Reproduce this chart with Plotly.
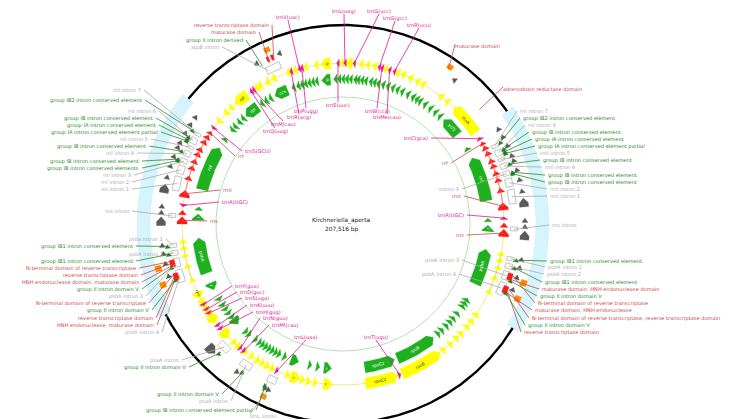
import numpy as np
import plotly.graph_objects as go

# ---------------- geometry (layout only) ----------------
CX, CY = 335.0, 216.0
MIRROR = 364.5            # inverted repeat copy: angle -> MIRROR - angle
IR_RIGHT = (55.5, 121.5)
R_BACK, R_YEL, R_GRN = 199, 161, 145
R_INTRON, R_ELEM, R_GRAY, R_ORANGE = 171, 177, 182, 190
R_THIN_G = 127

# ---------------- data ----------------
# angles in degrees clockwise from 12 o'clock; arrows point counter-clockwise
YEL_SMALL = [124.1, 127, 129.5, 132.7, 135, 138, 141.3, 189.8, 192.3, 194.5, 200, 206, 208,
             210, 212, 214.5, 217.2, 220.5, 222.5, 235.3, 237.2, 239.2, 241.2, 309.6, 313.5,
             316, 327.5, 329, 332, 334.5, 340, 342.5, 346.5, 350.3, 359.5, 6.4, 8.8, 11.3,
             15.2, 19.8, 21.9, 24.7, 27.5, 29.7, 37.4, 40.3]
YEL_BIG = [(143, 158.5, "rpoB"), (160, 172, "rpoC2"), (183.8, 187, "r"), (195.5, 199, "r"),
           (225, 228.5, ""), (232, 235, ""), (242.5, 245, "rps"), (318, 323.5, "rpl"),
           (352, 355.6, "p"), (0.8, 3.4, ""), (43.5, 55.4, "ccsA")]

GRN_SMALL = [121.5, 123, 124.5, 128, 130.5, 132.4, 134.5, 137, 139, 189.9, 193.1, 203.6, 206,
             207.5, 209, 210.5, 212, 213.5, 215, 217, 220.3, 222, 230, 232, 234, 236, 238.7,
             310.3, 312, 314.4, 316.5, 326, 328, 330, 340, 342, 343.5, 345, 346.5, 348, 349.5,
             357, 358.5, 0, 1.5, 3, 4.8, 6, 7.5, 9, 11, 12.5, 14, 16, 18, 20, 22, 24, 26.5,
             28.8, 30.5, 32, 34.4, 37, 39.5, 41.9]
GRN_BIG = [(141.5, 158, "rpoB"), (159.2, 171.4, "rpoC2"), (184.5, 187.5, "r"),
           (197.8, 201, ""), (226.3, 229.3, ""), (243, 246, "r"), (318, 324, "rpl"),
           (332, 337.5, "ccs"), (351.5, 355, "p"), (44, 52, "ycf1")]

# inverted repeat (right copy); left copy is mirrored
IR_RED = [61.8, 63.9, 66.9, 68.8, 71.6, 74.1, 77.9, 90.4]       # rRNA exons (small)
IR_RED_BIG = [83.7, 93.2]
IR_RRF = 60.0
IR_PSBA_EXONS = [100.6, 102.9, 105.6, 109.5, 114.8]
IR_GRN_BIG = [(62.9, 80.8, "rnl"), (90.5, 93.0, "r"), (100, 114.3, "psbA")]
IR_GRN_SMALL = [58.8, 88.4]
IR_GRAY_SMALL = [58.5, 61.3, 64.4, 67.8, 69.5, 72.6, 75.8, 79.5, 88.8, 90.8, 101.2, 103.8, 107, 111]
IR_GRAY_BIG = [83.2, 93.6]
IR_ELEM = [62.6, 65.0, 65.9, 66.5, 70.2, 73.0, 73.5, 101.8, 104.4, 108.8, 113.0]
IR_DOMAIN = [106.8, 107.5, 108.3, 111.2, 112.0, 112.8]
IR_ORANGE = [108.1, 113.2]

OTHER_INTRONS = [(333.5, 338.5), (222, 226), (212.5, 216.5), (203, 206)]
OTHER_GRAY = [331.5, 339.4, 37.6, 215.5, 204.0, 205.2]
OTHER_GRAY_BIG = [226.3]
OTHER_ORANGE = [336.4, 34.3, 204.8]
OTHER_ELEM = [223.5, 214.0, 205.6]
OTHER_DOMAIN = [335.5, 337.0]

TRNA = [("trnV(uac)", 344.3, 280, 9, "center"), ("trnL(uag)", 0.7, 336, 3, "center"),
        ("trnG(ucc)", 4.0, 371, 3, "center"), ("trnG(gcc)", 13.0, 387, 10, "center"),
        ("trnR(ucu)", 18.6, 411, 17, "center"), ("trnP(ugg)", 345.2, 298, 103, "center"),
        ("trnR(acg)", 341.2, 291, 109, "center"), ("trnM(cau)", 326.3, 275, 116, "center"),
        ("trnQ(uug)", 325.3, 267, 123, "center"), ("trnE(uuc)", 358.2, 330, 97, "center"),
        ("trnW(cca)", 14.0, 369, 103, "center"), ("trnMe(cau)", 16.8, 379, 109, "center"),
        ("trnC(gca)", 58.0, 422, 130, "right"), ("trnS(GCU)", 306.5, 235, 143, "left"),
        ("trnA(UGC)", 87.9, 458, 207, "right"), ("trnA(UGC)", 276.6, 212, 194, "left"),
        ("trnY(gua)", 240.0, 225, 278, "left"), ("trnD(guc)", 238.0, 230, 284, "left"),
        ("trnS(uga)", 236.4, 235, 290, "left"), ("trnK(uuu)", 231.0, 240, 297, "left"),
        ("trnH(gug)", 229.5, 246, 304, "left"), ("trnN(guu)", 219.5, 253, 310, "left"),
        ("trnMf(cau)", 218.0, 262, 317, "left"), ("trnL(uaa)", 204.2, 298, 329, "center"),
        ("trnT(ugu)", 159.4, 368, 329, "center")]
RRNA_LABELS = [("rrf", 60.0, 442, 155, "right"), ("rrnl", 83.7, 455, 188, "right"),
               ("rns", 93.2, 458, 227, "right"), ("rrf", 304.5, 228, 148, "left"),
               ("rrnl", 280.8, 213, 182, "left"), ("rns", 271.3, 200, 213, "left")]
INNER_GRAY = [("intron 3", 72.9, 453, 181, "right"), ("psbA intron 3", 107.6, 453, 252, "right"),
              ("psbA intron 4", 112.0, 450, 266, "right")]

# outer labels: (text, kind, x, y, target angle, target radius)
G, E, D = "gray", "green", "red"
RIGHT_LABELS = [
    ("rnl intron 7", G, 510, 103, 62.8, R_INTRON), ("group IB2 intron conserved element", E, 513, 110, 62.6, R_ELEM),
    ("rnl intron 6", G, 518, 117, 65.4, R_INTRON), ("group IB intron conserved element", E, 522, 124, 65.0, R_ELEM),
    ("group IA intron conserved element", E, 525, 131, 65.9, R_ELEM),
    ("group IA intron conserved element partial", E, 528, 138, 66.5, R_ELEM),
    ("rrnl intron 5", G, 530, 145, 67.8, R_INTRON), ("group IB intron conserved element", E, 533, 152, 70.2, R_ELEM),
    ("rrnl intron 4", G, 535, 159, 70.2, R_INTRON), ("group IB intron conserved element", E, 538, 167, 73.0, R_ELEM),
    ("group IB intron conserved element", E, 538, 174, 73.5, R_ELEM), ("rrnl intron 2", G, 540, 181, 76.0, R_INTRON),
    ("rrnl intron 1", G, 540, 188, 80.8, R_INTRON), ("rns intron", G, 542, 217, 91.8, R_INTRON),
    ("group IB1 intron conserved element", E, 540, 253, 101.8, R_ELEM), ("psbA intron 1", G, 538, 259, 101.7, R_INTRON),
    ("psbA intron 2", G, 537, 266, 104.2, R_INTRON), ("group IB1 intron conserved element", E, 535, 274, 104.4, R_ELEM),
    ("maturase domain, HNH endonuclease domain", D, 532, 281, 108.3, R_ELEM),
    ("group II intron domain V", E, 530, 288, 108.8, R_ELEM),
    ("N-terminal domain of reverse transcriptase", D, 528, 295, 106.8, R_ELEM),
    ("maturase domain, HNH endonuclease", D, 525, 302, 112.8, R_ELEM),
    ("N-terminal domain of reverse transcriptase, reverse transcriptase domain", D, 522, 310, 111.2, R_ELEM),
    ("group II intron domain V", E, 518, 317, 113.0, R_ELEM), ("reverse transcriptase domain", D, 514, 324, 112.0, R_ELEM)]
LEFT_LABELS = [
    ("rnl intron 7", G, 135, 82, 301.7, R_INTRON), ("group IB2 intron conserved element", E, 136, 92, 301.9, R_ELEM),
    ("rnl intron 6", G, 150, 103, 299.1, R_INTRON), ("group IB intron conserved element", E, 147, 110, 299.5, R_ELEM),
    ("group IA intron conserved element", E, 150, 117, 298.6, R_ELEM),
    ("group IA intron conserved element partial", E, 152, 124, 298.0, R_ELEM),
    ("rnl intron 5", G, 142, 131, 296.7, R_INTRON), ("group IB intron conserved element", E, 140, 138, 294.3, R_ELEM),
    ("rnl intron 4", G, 128, 145, 294.3, R_INTRON), ("group IB intron conserved element", E, 133, 153, 291.5, R_ELEM),
    ("group IB intron conserved elements", E, 133, 160, 291.0, R_ELEM), ("rnl intron 3", G, 125, 167, 291.6, R_INTRON),
    ("rnl intron 2", G, 123, 174, 288.5, R_INTRON), ("rnl intron 1", G, 123, 181, 283.7, R_INTRON),
    ("rns intron", G, 123, 203, 272.7, R_INTRON), ("psba intron 1", G, 157, 231, 262.8, R_INTRON),
    ("group IB1 intron conserved element", E, 127, 238, 262.7, R_ELEM), ("psbA intron 2", G, 157, 246, 260.3, R_INTRON),
    ("group IB1 intron conserved element", E, 127, 253, 260.1, R_ELEM),
    ("N-terminal domain of reverse transcriptase", D, 130, 260, 257.7, R_ELEM),
    ("reverse transcriptase domain", D, 132, 267, 257.0, R_ELEM),
    ("HNH endonuclease domain, maturase domain", D, 133, 274, 256.2, R_ELEM),
    ("group II intron domain V", E, 133, 281, 255.7, R_ELEM), ("psbA intron 3", G, 137, 288, 256.9, R_INTRON),
    ("N-terminal domain of reverse transcriptase", D, 140, 295, 253.3, R_ELEM),
    ("group II intron domain V", E, 143, 302, 251.5, R_ELEM), ("reverse transcriptase domain", D, 147, 310, 252.5, R_ELEM),
    ("HNH endonuclease, maturase domain", D, 148, 317, 251.7, R_ELEM), ("psbA intron 4", G, 153, 324, 252.5, R_INTRON),
    ("psaA intron", G, 173, 352, 224.0, R_INTRON), ("group II intron domain V", E, 180, 359, 223.5, R_ELEM),
    ("group II intron domain V", E, 213, 386, 214.0, R_ELEM), ("psaA intron", G, 222, 393, 214.5, R_INTRON),
    ("group IB intron conserved element partial", E, 247, 402, 205.6, R_ELEM),
    ("reverse transcriptase domain", D, 263, 17, 337.0, R_ELEM), ("maturase domain", D, 250, 24, 335.5, R_ELEM),
    ("group II intron derived", E, 237, 32, 333.0, R_ELEM), ("atpB intron", G, 213, 39, 334.0, R_INTRON)]
EXTRA_RIGHT = [("maturase domain", D, 445, 38, 34.3, R_ORANGE - 3), ("adrenodoxin reductase domain", D, 493, 81, 50.0, 178),
               ("trnL intron", G, 240, 408, 204.5, R_GRAY + 3)]

TITLE = "Kirchneriella_aperta"
SUBTITLE = "207,516 bp"

# ---------------- colours ----------------
COL = {"yellow": "#ffff00", "green": "#1fb01f", "red": "#ff1a1a", "magenta": "#ee1890",
       "gray": "#5a5a5a", "orange": "#ff8c00", "elem": "#1d7d1d", "intron": "#b4b4b4"}
LBL = {G: "#ababab", E: "#2b8a2b", D: "#c94848", "mag": "#e0168c"}
FONT = "DejaVu Sans"
FS = 5.1


def pol(a, r):
    t = np.radians(a)
    return CX + r * np.sin(t), CY - r * np.cos(t)


def arc(a0, a1, r, n=None):
    n = n or max(int(abs(a1 - a0) * 2) + 2, 2)
    return [pol(a, r) for a in np.linspace(a0, a1, n)]


def arrow(a0, a1, r, h, d=-1, tip_px=5.0):
    span = a1 - a0
    tip = min(np.degrees(tip_px / r), span) if d else 0.0
    if d == -1:
        b0, b1 = a0 + tip, a1
    elif d == 1:
        b0, b1 = a0, a1 - tip
    else:
        b0, b1 = a0, a1
    outer = arc(b0, b1, r + h / 2)
    inner = arc(b1, b0, r - h / 2)
    if d == -1:
        return [pol(a0, r)] + outer + inner
    if d == 1:
        return outer + [pol(a1, r)] + inner
    return outer + inner


groups = {}


def add(key, pts):
    xs, ys = groups.setdefault(key, ([], []))
    for x, y in pts:
        xs.append(x); ys.append(y)
    xs.append(pts[0][0]); ys.append(pts[0][1])
    xs.append(None); ys.append(None)


lines = {}


def add_line(key, pts):
    xs, ys = lines.setdefault(key, ([], []))
    for x, y in pts:
        xs.append(x); ys.append(y)
    xs.append(None); ys.append(None)


def mir(a):
    return MIRROR - a


def both(a):
    return [(a, -1), (mir(a), 1)]


gene_text = []

# yellow ring
for c in YEL_SMALL:
    add("yellow", arrow(c - 0.8, c + 0.8, R_YEL, 10))
for s, e, t in YEL_BIG:
    add("yellow", arrow(s, e, R_YEL, 11))
    if t:
        gene_text.append((t, (s + e) / 2 + 0.5, R_YEL, "#333333"))
# green ring
for c in GRN_SMALL:
    add("green", arrow(c - 0.7, c + 0.7, R_GRN, 10))
for s, e, t in GRN_BIG:
    add("green", arrow(s, e, R_GRN, 11))
    if t:
        gene_text.append((t, (s + e) / 2 + 0.5, R_GRN, "#ffffff"))

# inverted repeats
for a in IR_RED:
    for b, d in both(a):
        add("red", arrow(b - 0.8, b + 0.8, R_YEL, 8, d))
for a in IR_RED_BIG:
    for b, d in both(a):
        add("red", arrow(b - 1.3, b + 1.3, R_YEL, 10, d))
for b, d in both(IR_RRF):
    add("red", arrow(b - 0.6, b + 0.6, R_YEL, 7, d))
for a in IR_PSBA_EXONS:
    for b, d in both(a):
        add("yellow", arrow(b - 0.8, b + 0.8, R_YEL, 8, d))
for s, e, t in IR_GRN_BIG:
    add("green", arrow(s, e, R_GRN, 12, -1))
    add("green", arrow(mir(e), mir(s), R_GRN, 12, 1))
    gene_text.append((t, (s + e) / 2, R_GRN, "#ffffff"))
    gene_text.append((t, mir((s + e) / 2), R_GRN, "#ffffff"))
for a in IR_GRN_SMALL:
    for b, d in both(a):
        add("green", arrow(b - 0.7, b + 0.7, R_GRN, 8, d))
for a in IR_GRAY_SMALL:
    for b, d in both(a):
        add("gray", arrow(b - 0.7, b + 0.7, R_GRAY, 6, d))
for a in IR_GRAY_BIG:
    for b, d in both(a):
        add("gray", arrow(b - 1.4, b + 1.4, R_GRAY, 9, d))
for a in IR_ELEM:
    for b, d in both(a):
        add("elem", arrow(b - 0.6, b + 0.6, R_ELEM, 5, d))
for a in IR_DOMAIN:
    for b, d in both(a):
        add("red", arrow(b - 0.4, b + 0.4, R_ELEM - 2, 5, 0))
for a in IR_ORANGE:
    for b, d in both(a):
        add("orange", arrow(b - 0.9, b + 0.9, R_ORANGE, 6, 0))

# introns (white boxes) between IR exons
intron_spans = []
rnl_ex = sorted(IR_RED[:7] + [IR_RED_BIG[0]])
for a0, a1 in zip(rnl_ex[:-1], rnl_ex[1:]):
    intron_spans.append((a0 + 0.5, a1 - 0.5))
intron_spans.append((IR_RED[7] + 0.6, IR_RED_BIG[1] - 0.9))
for a0, a1 in zip(IR_PSBA_EXONS[:-1], IR_PSBA_EXONS[1:]):
    intron_spans.append((a0 + 0.5, a1 - 0.5))
intron_boxes = []
for s, e in intron_spans:
    intron_boxes.append(arrow(s, e, R_INTRON, 7, 0))
    intron_boxes.append(arrow(mir(e), mir(s), R_INTRON, 7, 0))
for s, e in OTHER_INTRONS:
    intron_boxes.append(arrow(s, e, R_INTRON, 7, 0))
for a in OTHER_GRAY:
    add("gray", arrow(a - 0.7, a + 0.7, R_GRAY, 6, -1))
for a in OTHER_GRAY_BIG:
    add("gray", arrow(a - 1.6, a + 1.6, R_GRAY, 10, -1))
for a in OTHER_ORANGE:
    add("orange", arrow(a - 0.9, a + 0.9, R_ORANGE, 5, 0))
for a in OTHER_ELEM:
    add("elem", arrow(a - 0.6, a + 0.6, R_ELEM + 3, 5, -1))
for a in OTHER_DOMAIN:
    add("red", arrow(a - 0.4, a + 0.4, R_ELEM + 4, 5, 0))

# tRNA marks
for name, a, lx, ly, anc in TRNA:
    add("magenta", arrow(a - 0.5, a + 0.5, R_YEL, 8, -1))

fig = go.Figure()

# inverted repeat bands on backbone
for s, e in [IR_RIGHT, (mir(IR_RIGHT[1]), mir(IR_RIGHT[0]))]:
    pts = arc(s, e, 206) + arc(e, s, 193)
    fig.add_trace(go.Scatter(x=[p[0] for p in pts] + [pts[0][0]], y=[p[1] for p in pts] + [pts[0][1]],
                             mode="lines", fill="toself", fillcolor="#d5f4fb",
                             line=dict(color="#c6eef7", width=0.5), hoverinfo="skip"))
# backbone
for s, e in [(mir(IR_RIGHT[0]), 360 + IR_RIGHT[0]), (IR_RIGHT[1], mir(IR_RIGHT[1]))]:
    pts = arc(s, e, R_BACK, 400)
    fig.add_trace(go.Scatter(x=[p[0] for p in pts], y=[p[1] for p in pts], mode="lines",
                             line=dict(color="black", width=2.4), hoverinfo="skip"))
# thin guide circles
pts = arc(0, 360, R_YEL, 500)
fig.add_trace(go.Scatter(x=[p[0] for p in pts], y=[p[1] for p in pts], mode="lines",
                         line=dict(color="#eded88", width=1), hoverinfo="skip"))
pts = arc(0, 360, R_THIN_G, 500)
fig.add_trace(go.Scatter(x=[p[0] for p in pts], y=[p[1] for p in pts], mode="lines",
                         line=dict(color="#b5e3b0", width=1), hoverinfo="skip"))

# connecting lines of split rRNA / psbA exons
for s, e, col in [(rnl_ex[0], rnl_ex[-1], "#ff6060"), (IR_PSBA_EXONS[0], IR_PSBA_EXONS[-1], "#e0e060")]:
    for a0, a1 in [(s, e), (mir(e), mir(s))]:
        add_line(col, arc(a0, a1, R_YEL))

# intron boxes
bx, by = [], []
for poly in intron_boxes:
    bx += [p[0] for p in poly] + [poly[0][0], None]
    by += [p[1] for p in poly] + [poly[0][1], None]
fig.add_trace(go.Scatter(x=bx, y=by, mode="lines", fill="toself", fillcolor="white",
                         line=dict(color=COL["intron"], width=0.8), hoverinfo="skip"))

for key in ["yellow", "green", "red", "gray", "elem", "orange", "magenta"]:
    if key in groups:
        xs, ys = groups[key]
        fig.add_trace(go.Scatter(x=xs, y=ys, mode="lines", fill="toself", fillcolor=COL[key],
                                 line=dict(color=COL[key], width=0.3), hoverinfo="skip"))

annotations = []


def label(text, x, y, color, anchor, size=FS):
    annotations.append(dict(x=x, y=y, text=text, showarrow=False, xanchor=anchor, yanchor="middle",
                            font=dict(family=FONT, size=size, color=color), xref="x", yref="y"))


for name, a, lx, ly, anc in TRNA:
    tx, ty = pol(a, R_YEL)
    if anc == "center":
        sx, sy = lx, (ly + 3 if ty > ly else ly - 3)
    elif anc == "left":
        sx, sy = lx - 1, ly
    else:
        sx, sy = lx + 1, ly
    add_line(LBL["mag"], [(sx, sy), (tx, ty)])
    label(name, lx, ly, LBL["mag"], anc)
for name, a, lx, ly, anc in RRNA_LABELS:
    tx, ty = pol(a, R_YEL)
    sx = lx - 1 if anc == "left" else lx + 1
    add_line(LBL[D], [(sx, ly), (tx, ty)])
    label(name, lx, ly, LBL[D], anc)
for name, a, lx, ly, anc in INNER_GRAY:
    tx, ty = pol(a, R_INTRON)
    add_line(LBL[G], [(lx + 1, ly), (tx, ty)])
    label(name, lx, ly, LBL[G], anc)
for text, kind, lx, ly, a, r in RIGHT_LABELS:
    tx, ty = pol(a, r)
    add_line(LBL[kind], [(lx - 1, ly), (tx, ty)])
    label(text, lx, ly, LBL[kind], "left")
for text, kind, lx, ly, a, r in LEFT_LABELS:
    tx, ty = pol(a, r)
    add_line(LBL[kind], [(lx + 1, ly), (tx, ty)])
    label(text, lx, ly, LBL[kind], "right")
for text, kind, lx, ly, a, r in EXTRA_RIGHT:
    tx, ty = pol(a, r)
    add_line(LBL[kind], [(lx + 2, ly - 2), (tx, ty)])
    label(text, lx, ly, LBL[kind], "left")

for key, (xs, ys) in lines.items():
    fig.add_trace(go.Scatter(x=xs, y=ys, mode="lines", line=dict(color=key, width=0.8), hoverinfo="skip"))

for t, a, r, c in gene_text:
    x, y = pol(a, r)
    ang = a if (a < 90 or a > 270) else a - 180
    annotations.append(dict(x=x, y=y, text=t, showarrow=False, textangle=ang, xref="x", yref="y",
                            font=dict(family=FONT, size=4.2, color=c)))

label(TITLE, CX - 2, 212, "#222222", "center", 5.8)
label(SUBTITLE, CX - 2, 221, "#222222", "center", 5.8)

fig.update_layout(width=736, height=419, margin=dict(l=0, r=0, t=0, b=0), showlegend=False,
                  plot_bgcolor="white", paper_bgcolor="white", annotations=annotations,
                  xaxis=dict(range=[0, 736], visible=False, fixedrange=True),
                  yaxis=dict(range=[419, 0], visible=False, fixedrange=True))
fig.write_html("out.html")
